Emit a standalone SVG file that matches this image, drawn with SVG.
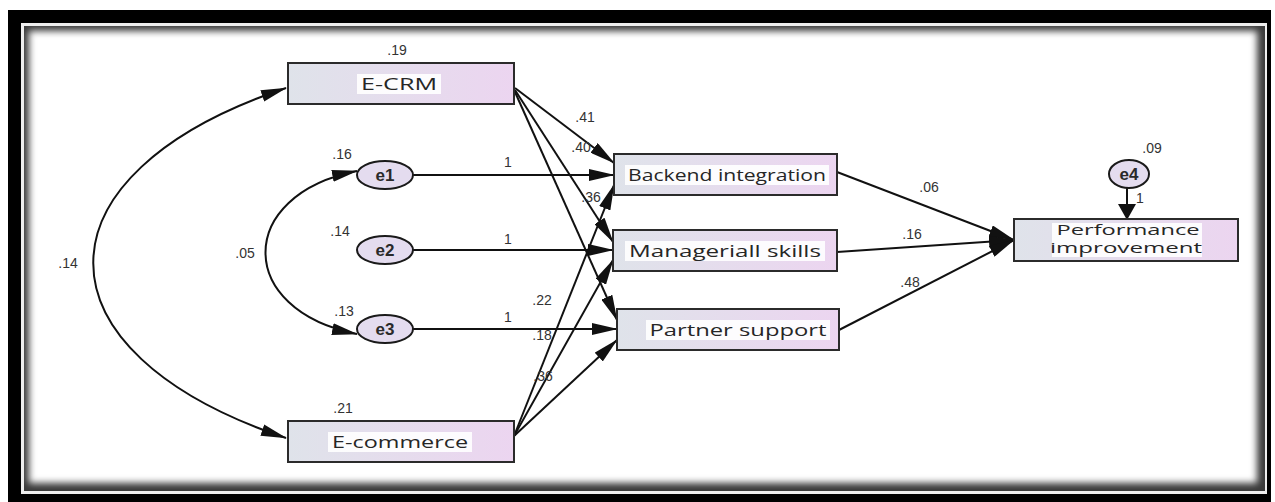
<svg xmlns="http://www.w3.org/2000/svg" width="1275" height="502" viewBox="0 0 1275 502">
  <style>
    .box { stroke: #2b2b2b; stroke-width: 2; fill: url(#boxFill); }
    .err { stroke: #1a1a1a; stroke-width: 2; fill: #e4dcef; }
    .lbl { font-family: "Open Sans", "Liberation Sans", sans-serif; font-size: 16px; fill: #262626; text-anchor: middle; }
    .lbl2 { font-family: "Open Sans", "Liberation Sans", sans-serif; font-size: 14.5px; fill: #262626; text-anchor: middle; }
    .err-lbl { font-family: "Liberation Sans", Arial, sans-serif; font-size: 17px; font-weight: bold; fill: #2a2a2a; text-anchor: middle; }
    .num { font-family: "Liberation Sans", Arial, sans-serif; font-size: 14px; fill: #333333; text-anchor: middle; }
    .hl { fill: #ffffff; opacity: 0.9; }
    .path { stroke: #111; stroke-width: 2; fill: none; marker-end: url(#ah); }
    .cov { stroke: #111; stroke-width: 2; fill: none; marker-start: url(#ah); marker-end: url(#ah); }
  </style>
  <defs>
    <linearGradient id="boxFill" x1="0" y1="0" x2="1" y2="0">
      <stop offset="0" stop-color="#dfe3ea"/>
      <stop offset="1" stop-color="#ecd5f0"/>
    </linearGradient>
    <marker id="ah" markerUnits="userSpaceOnUse" viewBox="0 0 26 12" markerWidth="26" markerHeight="12" refX="25" refY="6" orient="auto-start-reverse">
      <path d="M0,0 L26,6 L0,12 Z" fill="#111"/>
    </marker>
    <marker id="ahShort" markerUnits="userSpaceOnUse" viewBox="0 0 16 18" markerWidth="16" markerHeight="18" refX="15" refY="9" orient="auto">
      <path d="M0,0 L16,9 L0,18 Z" fill="#111"/>
    </marker>
    <filter id="soft" x="-5%" y="-5%" width="110%" height="110%">
      <feGaussianBlur stdDeviation="3.5"/>
    </filter>
    <clipPath id="panelClip">
      <rect x="24" y="26" width="1241" height="465"/>
    </clipPath>
  </defs>

  <!-- picture frame: black mount, thin light rule, softly shaded inner panel -->
  <rect x="0" y="0" width="1275" height="502" fill="#ffffff"/>
  <rect x="8" y="10" width="1263" height="492" fill="#000000"/>
  <rect x="21" y="23" width="1246" height="471" fill="#eeeeee"/>
  <g clip-path="url(#panelClip)">
    <rect x="24" y="26" width="1241" height="465" fill="#3a3a3a"/>
    <rect x="29" y="31" width="1228" height="452" fill="#ffffff" filter="url(#soft)"/>
  </g>

  <!-- connectors -->
  <g id="connectors">
    <path class="cov" d="M286,88 C29,174 29,352 286,438"/>
    <path class="cov" d="M357,171 C235,195 235,310 357,334"/>

    <line class="path" x1="413" y1="175" x2="614" y2="175"/>
    <line class="path" x1="413" y1="250" x2="613" y2="250"/>
    <line class="path" x1="413" y1="329" x2="617" y2="329"/>

    <line class="path" x1="515" y1="88" x2="614" y2="163"/>
    <line class="path" x1="515" y1="90" x2="613" y2="242"/>
    <line class="path" x1="515" y1="92" x2="617" y2="320"/>

    <line class="path" x1="514" y1="436" x2="614" y2="185"/>
    <line class="path" x1="514" y1="436" x2="613" y2="260"/>
    <line class="path" x1="514" y1="436" x2="617" y2="340"/>

    <line class="path" x1="837" y1="172" x2="1014" y2="240"/>
    <line class="path" x1="837" y1="252" x2="1014" y2="240"/>
    <line class="path" x1="839" y1="330" x2="1014" y2="240"/>

    <line x1="1127" y1="188" x2="1127" y2="219" stroke="#111" stroke-width="2" marker-end="url(#ahShort)"/>

    <text class="num" x="585" y="122">.41</text>
    <text class="num" x="581" y="152">.40</text>
    <text class="num" x="591" y="202">.36</text>
    <text class="num" x="542" y="305">.22</text>
    <text class="num" x="542" y="340">.18</text>
    <text class="num" x="543" y="381">.36</text>
    <text class="num" x="508" y="167">1</text>
    <text class="num" x="508" y="244">1</text>
    <text class="num" x="508" y="322">1</text>
    <text class="num" x="929" y="192">.06</text>
    <text class="num" x="912" y="239">.16</text>
    <text class="num" x="910" y="287">.48</text>
    <text class="num" x="1140" y="203">1</text>
    <text class="num" x="68" y="268">.14</text>
    <text class="num" x="245" y="258">.05</text>
  </g>

  <!-- exogenous observed variables -->
  <g id="ecrm">
    <rect class="box" x="288" y="63" width="226" height="41"/>
    <rect class="hl" x="357" y="74" width="84" height="20"/>
    <text class="lbl" x="399" y="90" textLength="76" lengthAdjust="spacingAndGlyphs">E-CRM</text>
    <text class="num" x="397" y="55">.19</text>
  </g>
  <g id="ecommerce">
    <rect class="box" x="288" y="421" width="226" height="41"/>
    <rect class="hl" x="328" y="432" width="144" height="20"/>
    <text class="lbl" x="400" y="448" textLength="136" lengthAdjust="spacingAndGlyphs">E-commerce</text>
    <text class="num" x="343" y="413">.21</text>
  </g>

  <!-- error terms -->
  <g id="e1">
    <ellipse class="err" cx="385" cy="175" rx="28" ry="14"/>
    <text class="err-lbl" x="385" y="181">e1</text>
    <text class="num" x="342" y="159">.16</text>
  </g>
  <g id="e2">
    <ellipse class="err" cx="385" cy="250" rx="28" ry="14"/>
    <text class="err-lbl" x="385" y="256">e2</text>
    <text class="num" x="340" y="236">.14</text>
  </g>
  <g id="e3">
    <ellipse class="err" cx="385" cy="329" rx="28" ry="14"/>
    <text class="err-lbl" x="385" y="335">e3</text>
    <text class="num" x="344" y="316">.13</text>
  </g>
  <g id="e4">
    <ellipse class="err" cx="1129" cy="174" rx="20" ry="14"/>
    <text class="err-lbl" x="1129" y="180">e4</text>
    <text class="num" x="1152" y="153">.09</text>
  </g>

  <!-- mediators -->
  <g id="backend">
    <rect class="box" x="614" y="154" width="223" height="41"/>
    <rect class="hl" x="625" y="165" width="204" height="20"/>
    <text class="lbl" x="727" y="181" textLength="198" lengthAdjust="spacingAndGlyphs">Backend integration</text>
  </g>
  <g id="managerial">
    <rect class="box" x="613" y="230" width="224" height="41"/>
    <rect class="hl" x="625" y="241" width="200" height="20"/>
    <text class="lbl" x="725" y="257" textLength="192" lengthAdjust="spacingAndGlyphs">Manageriall skills</text>
  </g>
  <g id="partner">
    <rect class="box" x="617" y="309" width="222" height="41"/>
    <rect class="hl" x="646" y="320" width="184" height="20"/>
    <text class="lbl" x="738" y="336" textLength="177" lengthAdjust="spacingAndGlyphs">Partner support</text>
  </g>

  <!-- outcome -->
  <g id="performance">
    <rect class="box" x="1014" y="219" width="224" height="42"/>
    <rect class="hl" x="1052" y="223" width="150" height="34"/>
    <text class="lbl2" x="1128" y="235" textLength="143" lengthAdjust="spacingAndGlyphs">Performance</text>
    <text class="lbl2" x="1126" y="253" textLength="152" lengthAdjust="spacingAndGlyphs">improvement</text>
  </g>
</svg>
